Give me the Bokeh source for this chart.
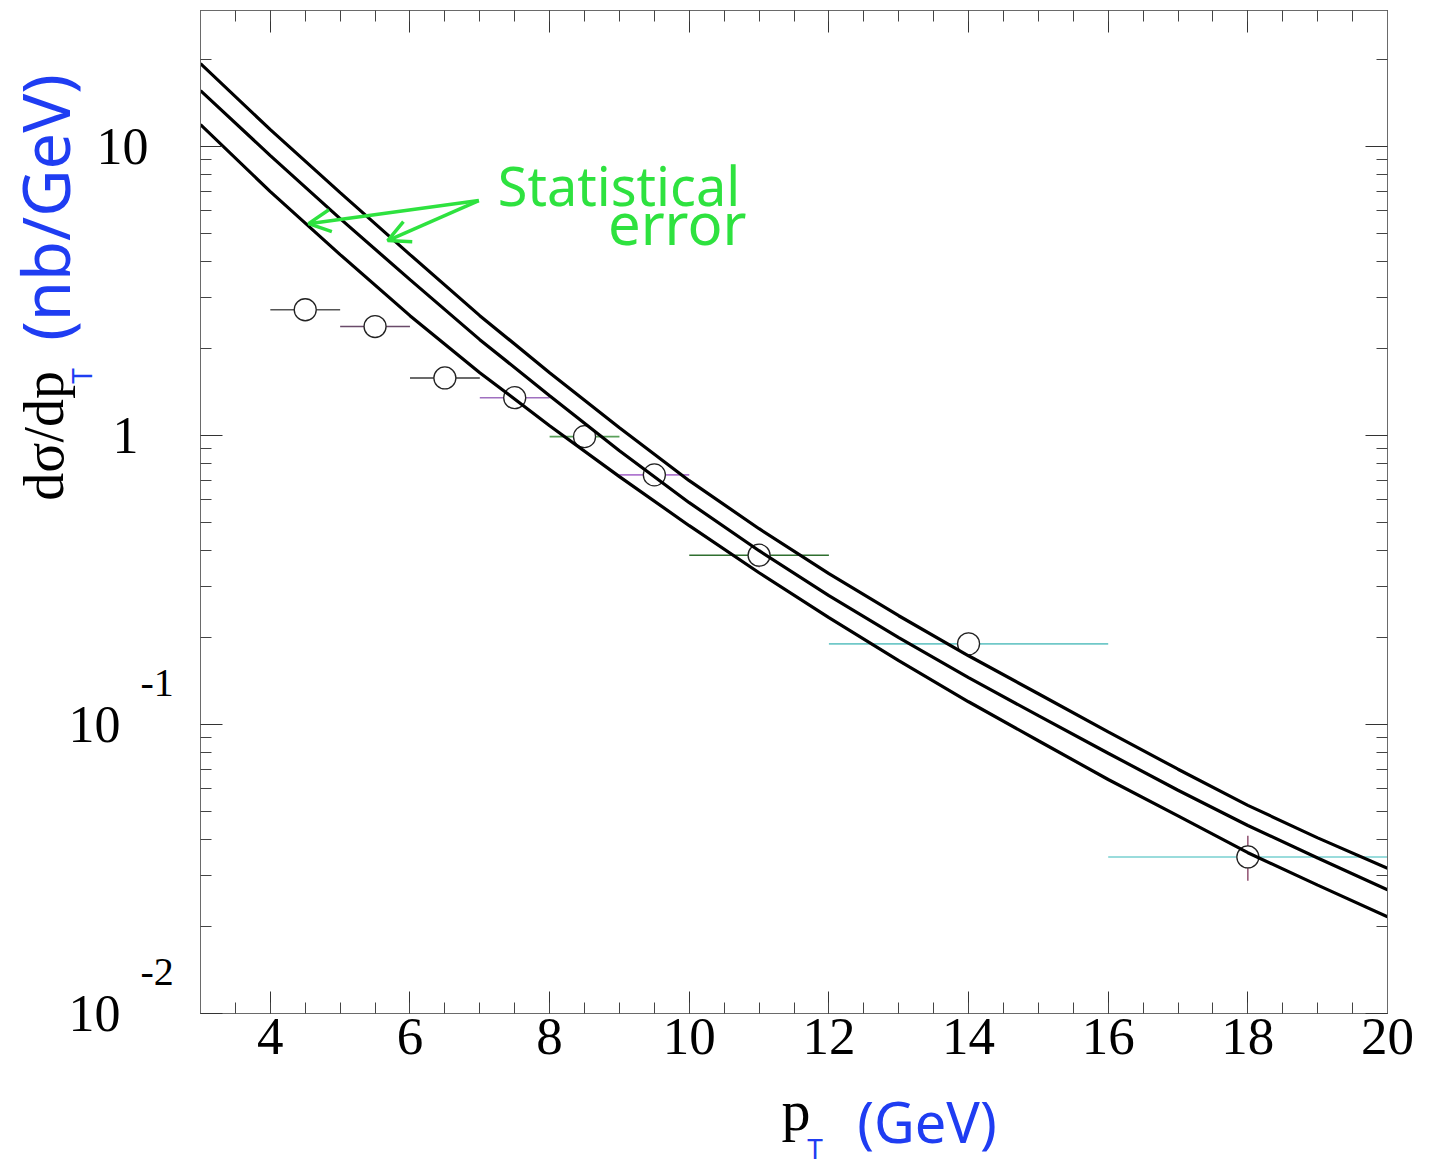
import math
from bokeh.plotting import figure
from bokeh.layouts import row, column
from bokeh.models import (Label, Arrow, OpenHead, LinearAxis, LogAxis, Range1d,
                          SingleIntervalTicker, FixedTicker, CustomJSTickFormatter,
                          ColumnDataSource)
from bokeh.core.properties import value
from bokeh.embed import file_html
from bokeh.resources import INLINE

# Measured d(sigma)/dpT per pT bin (nb/GeV)
pt_center = [4.5, 5.5, 6.5, 7.5, 8.5, 9.5, 11.0, 14.0, 18.0]
pt_low = [4, 5, 6, 7, 8, 9, 10, 12, 16]
pt_high = [5, 6, 7, 8, 9, 10, 12, 16, 20]
xsec = [2.72, 2.38, 1.58, 1.35, 0.99, 0.73, 0.385, 0.190, 0.0348]
xsec_low = [2.60, 2.27, 1.51, 1.29, 0.945, 0.70, 0.35, 0.172, 0.0288]
xsec_high = [2.85, 2.50, 1.66, 1.42, 1.04, 0.765, 0.42, 0.208, 0.0412]

# Prediction: central curve with its statistical-error envelope
curve_pt = [3, 4, 5, 6, 7, 8, 9, 10, 11, 12, 13, 14, 15, 16, 17, 18, 19, 20]
curve_upper = [19.33, 11.42, 6.916, 4.221, 2.595, 1.648, 1.063, 0.697, 0.4755,
               0.3322, 0.2377, 0.1728, 0.1277, 0.0943, 0.0700, 0.0525, 0.0405, 0.0318]
curve_central = [15.58, 9.286, 5.620, 3.458, 2.144, 1.372, 0.885, 0.585, 0.399,
                 0.2788, 0.1995, 0.1451, 0.1072, 0.0795, 0.0592, 0.0447, 0.0345, 0.0268]
curve_lower = [11.89, 6.970, 4.221, 2.595, 1.648, 1.080, 0.720, 0.487, 0.3348,
               0.2340, 0.1661, 0.1198, 0.0878, 0.0645, 0.0483, 0.0360, 0.0278, 0.0216]

# Decade labels of the y axis: value, mantissa, exponent
y_decades = [10, 1, 0.1, 0.01]
y_mantissa = ["10", "1", "10", "10"]
y_exponent = ["", "", "-1", "-2"]

SERIF = "Liberation Serif"
HAND = "Noto Sans"
BLUE = "#1f3df2"
GREEN = "#2ee23f"
FRAME = "#6a6a6a"

X_RANGE = Range1d(3, 20)
Y_MIN, Y_MAX = 0.01, 29.5

# ---------------------------------------------------------------- main panel
p = figure(width=1229, height=1077, y_axis_type="log",
           x_range=X_RANGE, y_range=Range1d(Y_MIN, Y_MAX),
           output_backend="svg", toolbar_location=None,
           min_border_left=0, min_border_right=42,
           min_border_top=10, min_border_bottom=64)
p.grid.visible = False
p.outline_line_color = FRAME
p.outline_line_width = 1
p.background_fill_color = "white"
p.border_fill_color = "white"

blank = CustomJSTickFormatter(code="return ''")
x_ticker = SingleIntervalTicker(interval=2, num_minor_ticks=4)
y_minor = [m * d for d in [0.01, 0.1, 1, 10] for m in range(2, 10)]
y_ticker = FixedTicker(ticks=[0.01, 0.1, 1, 10], minor_ticks=y_minor)


def style_axis(ax, labels):
    ax.axis_line_color = FRAME
    ax.major_tick_line_color = "#333333"
    ax.minor_tick_line_color = "#444444"
    ax.major_tick_in = 22
    ax.major_tick_out = 0
    ax.minor_tick_in = 11
    ax.minor_tick_out = 0
    if not labels:
        ax.formatter = blank
        ax.major_label_standoff = 0


xb = p.xaxis[0]
xb.ticker = x_ticker
style_axis(xb, True)
xb.major_label_text_font = SERIF
xb.major_label_text_font_size = "53px"
xb.major_label_text_color = "black"
xb.major_label_standoff = 5

yl = p.yaxis[0]
yl.ticker = y_ticker
style_axis(yl, False)

xt = LinearAxis(ticker=x_ticker)
style_axis(xt, False)
p.add_layout(xt, "above")
yr = LogAxis(ticker=y_ticker)
style_axis(yr, False)
p.add_layout(yr, "right")

# x error bars and point uncertainties
src = ColumnDataSource(dict(x=pt_center, lo=pt_low, hi=pt_high,
                            y=xsec, ylo=xsec_low, yhi=xsec_high))
src.data["c"] = ["#555555", "#6a4a6a", "#3a3a3a", "#a070c0", "#5aa05a",
                 "#b078d0", "#2f6f2f", "#70c8c8", "#78d0d0"]
p.segment(x0="lo", x1="hi", y0="y", y1="y", source=src, line_color="c", line_width=1.6)
p.segment(x0="x", x1="x", y0="ylo", y1="yhi", source=src, line_color="#884466", line_width=1.4)
p.scatter(x="x", y="y", source=src, marker="circle", size=22,
          fill_color="white", line_color="#222222", line_width=1.3)

# prediction band
for ys in (curve_upper, curve_central, curve_lower):
    p.line(curve_pt, ys, line_color="black", line_width=3.2)

# note on the error band
p.add_layout(Label(x=7.258, y=7.37, text="Statistical", text_align="left",
                   text_baseline="middle", text_font=HAND,
                   text_font_size="54px", text_color=GREEN))
p.add_layout(Label(x=8.835, y=5.445, text="error", text_align="left",
                   text_baseline="middle", text_font=HAND,
                   text_font_size="58px", text_color=GREEN))
for xe, ye in [(4.548, 5.40), (5.681, 4.72)]:
    p.add_layout(Arrow(x_start=6.986, y_start=6.49, x_end=xe, y_end=ye,
                       line_color=GREEN, line_width=3.5,
                       end=OpenHead(size=22, line_color=GREEN, line_width=3.5)))

# ------------------------------------------------- left strip: y labels/title
# Same decade spacing as the main panel, extended over the full strip height
px_per_decade = (1013 - 10) / math.log10(Y_MAX / Y_MIN)
strip_top = Y_MAX * 10 ** (10 / px_per_decade)
strip_bottom = Y_MIN / 10 ** ((1166 - 1013) / px_per_decade)

left = figure(width=200, height=1166, y_axis_type="log",
              x_range=Range1d(0, 200), y_range=Range1d(strip_bottom, strip_top),
              x_axis_location=None, y_axis_location=None,
              output_backend="svg", toolbar_location=None,
              min_border_left=0, min_border_right=0,
              min_border_top=0, min_border_bottom=0)
left.grid.visible = False
left.outline_line_color = None

for val, man, ex in zip(y_decades, y_mantissa, y_exponent):
    if ex:
        left.text(x=[120], y=[val], text=[man], text_align="right",
                  text_baseline="middle", text_font=value(SERIF),
                  text_font_size="52px", text_color="black")
        left.text(x=[140], y=[val * 1.395], text=[ex], text_align="left",
                  text_baseline="middle", text_font=value(SERIF),
                  text_font_size="40px", text_color="black")
    else:
        left.text(x=[148 if man == "10" else 138], y=[val], text=[man],
                  text_align="right", text_baseline="middle",
                  text_font=value(SERIF), text_font_size="52px",
                  text_color="black")

left.text(x=[43], y=[0.594], text=["dσ/dp"], angle=math.pi / 2,
          text_align="left", text_baseline="middle", text_font=value(SERIF),
          text_font_size="56px", text_color="black")
left.text(x=[80], y=[1.51], text=["T"], angle=math.pi / 2,
          text_align="left", text_baseline="middle", text_font=value(HAND),
          text_font_size="28px", text_color=BLUE)
left.text(x=[44], y=[2.127], text=["(nb/GeV)"], angle=math.pi / 2,
          text_align="left", text_baseline="middle", text_font=value(HAND),
          text_font_size="65px", text_color=BLUE)

# ------------------------------------------------- bottom strip: x title
bottom = figure(width=1229, height=89, x_range=X_RANGE, y_range=Range1d(89, 0),
                x_axis_location=None, y_axis_location=None,
                output_backend="svg", toolbar_location=None,
                min_border_left=0, min_border_right=42,
                min_border_top=0, min_border_bottom=0)
bottom.grid.visible = False
bottom.outline_line_color = None
bottom.text(x=[11.32], y=[33], text=["p"], text_align="left",
            text_baseline="middle", text_font=value(SERIF),
            text_font_size="58px", text_color="black")
bottom.text(x=[11.688], y=[70], text=["T"], text_align="left",
            text_baseline="middle", text_font=value(HAND),
            text_font_size="28px", text_color=BLUE)
bottom.text(x=[12.405], y=[43], text=["(GeV)"], text_align="left",
            text_baseline="middle", text_font=value(HAND),
            text_font_size="56px", text_color=BLUE)

page = row(left, column(p, bottom, spacing=0), spacing=0)
open("out.html", "w").write(file_html(page, INLINE))
